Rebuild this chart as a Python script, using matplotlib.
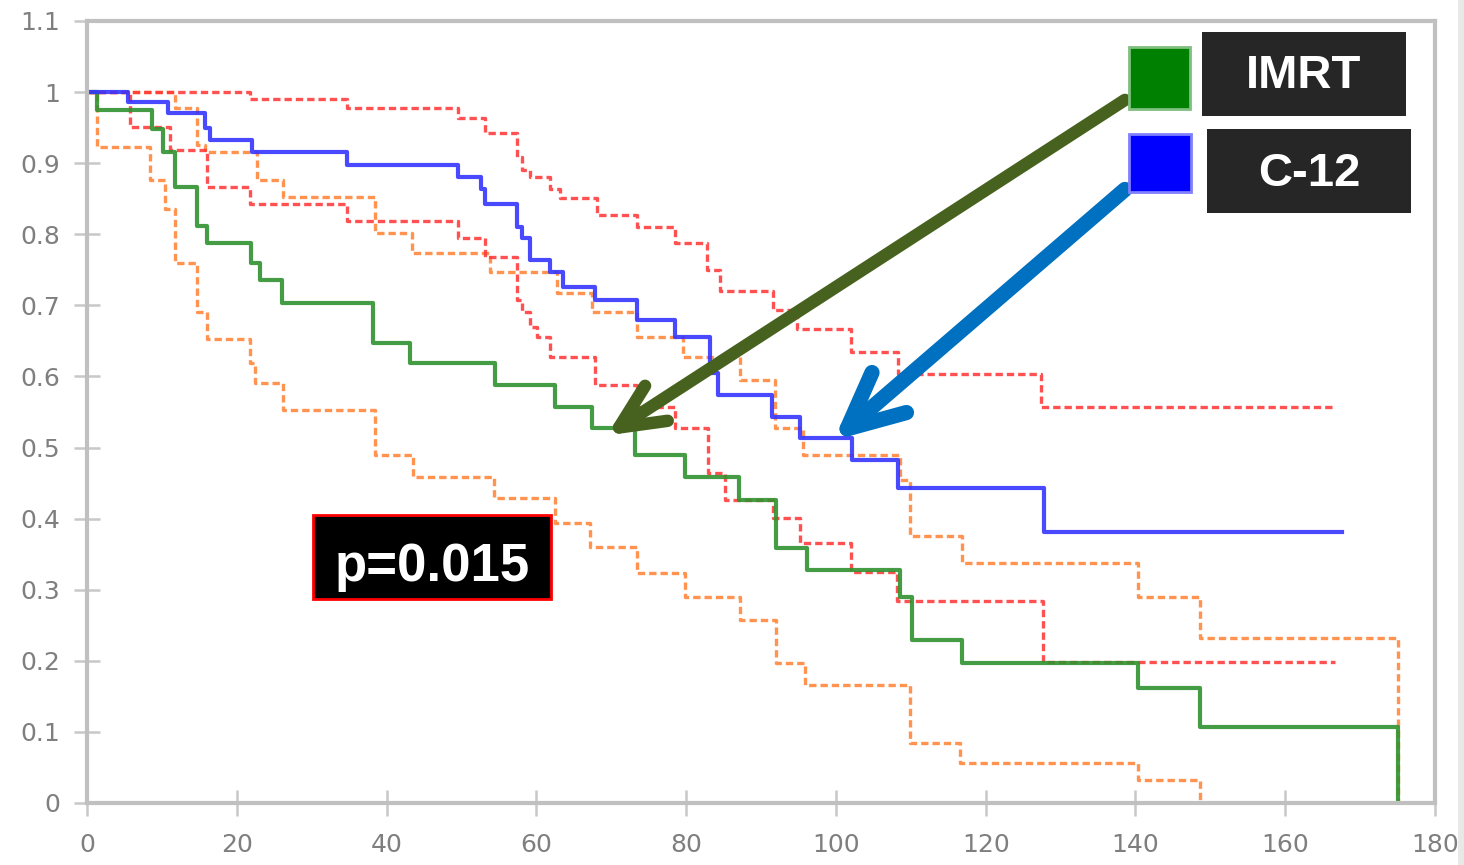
import matplotlib
matplotlib.use('Agg')
import matplotlib.pyplot as plt
from matplotlib.patches import Rectangle

# survival curves (months, fraction surviving)
imrt_t = [0, 1.3, 8.7, 10.1, 11.7, 14.7, 16.0, 21.9, 23.1, 26.0, 38.2, 43.1,
          54.5, 62.5, 67.4, 73.2, 79.8, 87.1, 92.0, 96.1, 108.5, 110.2, 116.8,
          140.3, 148.6, 175.0]
imrt_s = [1.0, 0.975, 0.948, 0.916, 0.867, 0.811, 0.788, 0.760, 0.736, 0.704,
          0.647, 0.619, 0.588, 0.557, 0.527, 0.490, 0.459, 0.426, 0.359, 0.328,
          0.290, 0.229, 0.197, 0.162, 0.107, 0.0]

c12_t = [0, 5.5, 10.8, 15.8, 16.4, 22.0, 34.7, 49.5, 52.6, 53.1, 57.4, 58.1,
         59.1, 61.8, 63.6, 67.8, 73.4, 78.5, 83.2, 84.3, 91.5, 95.2, 102.1,
         108.3, 127.8, 167.6]
c12_s = [1.0, 0.986, 0.971, 0.95, 0.933, 0.916, 0.898, 0.88, 0.863, 0.842,
         0.81, 0.795, 0.764, 0.747, 0.726, 0.708, 0.68, 0.656, 0.605, 0.574,
         0.543, 0.514, 0.483, 0.443, 0.381, 0.381]

# confidence bands, IMRT (orange)
imrt_hi_t = [0, 11.8, 14.7, 15.8, 22.7, 26.2, 38.5, 43.4, 53.8, 62.8, 67.4,
             73.4, 79.6, 87.2, 91.9, 95.6, 108.6, 109.9, 116.8, 140.3, 148.6,
             175.0]
imrt_hi_s = [1.0, 0.978, 0.926, 0.916, 0.877, 0.853, 0.802, 0.774, 0.747,
             0.718, 0.690, 0.656, 0.628, 0.595, 0.528, 0.490, 0.455, 0.375,
             0.338, 0.290, 0.232, 0.0]
imrt_lo_t = [0, 1.3, 8.4, 10.4, 11.8, 14.7, 16.0, 21.8, 22.4, 26.2, 38.5,
             43.5, 54.3, 62.5, 67.2, 73.4, 79.8, 87.2, 92.0, 95.9, 109.9, 116.6,
             140.3, 148.6, 175.0]
imrt_lo_s = [1.0, 0.923, 0.877, 0.835, 0.76, 0.69, 0.652, 0.619, 0.591, 0.553,
             0.49, 0.459, 0.429, 0.394, 0.36, 0.324, 0.29, 0.257, 0.197, 0.166,
             0.084, 0.056, 0.032, 0.0, 0.0]

# confidence bands, C-12 (red)
c12_hi_t = [0, 21.8, 34.7, 49.5, 53.1, 57.4, 58.1, 59.1, 61.8, 63.1, 68.1,
            73.4, 78.5, 82.8, 84.5, 91.6, 94.8, 102.0, 108.3, 127.4, 166.6]
c12_hi_s = [1.0, 0.99, 0.977, 0.963, 0.942, 0.909, 0.891, 0.880, 0.863, 0.851,
            0.827, 0.81, 0.788, 0.75, 0.72, 0.694, 0.667, 0.635, 0.604, 0.557,
            0.557]
c12_lo_t = [0, 5.7, 11.1, 16.0, 21.8, 34.7, 49.5, 53.1, 57.4, 58.1, 59.1,
            60.1, 61.8, 67.8, 73.4, 78.5, 82.9, 85.2, 91.6, 95.2, 102.0, 108.1,
            127.6, 166.6]
c12_lo_s = [1.0, 0.951, 0.919, 0.867, 0.842, 0.818, 0.795, 0.768, 0.708, 0.69,
            0.67, 0.656, 0.628, 0.588, 0.557, 0.528, 0.464, 0.426, 0.401, 0.366,
            0.325, 0.284, 0.198, 0.198]

x_ticks = [0, 20, 40, 60, 80, 100, 120, 140, 160, 180]
y_ticks = [0, 0.1, 0.2, 0.3, 0.4, 0.5, 0.6, 0.7, 0.8, 0.9, 1.0, 1.1]
y_tick_labels = ['0', '0.1', '0.2', '0.3', '0.4', '0.5', '0.6', '0.7', '0.8',
                 '0.9', '1', '1.1']

groups = ['IMRT', 'C-12']
p_value = 'p=0.015'

# arrow tail / head in data units
imrt_arrow = ((138.6, 0.989), (69.4, 0.517))
c12_arrow = ((138.6, 0.863), (99.7, 0.510))

W, H = 1464, 865


def fig_box(x0, y0, x1, y1):
    # pixel box (top-left origin) -> figure fraction rectangle args
    return (x0 / W, 1 - y1 / H), (x1 - x0) / W, (y1 - y0) / H


def label_box(fig, x0, y0, x1, y1, face, edge=None, lw=0):
    xy, w, h = fig_box(x0, y0, x1, y1)
    fig.add_artist(Rectangle(xy, w, h, transform=fig.transFigure,
                             facecolor=face, edgecolor=edge or face, lw=lw))


fig = plt.figure(figsize=(W / 100, H / 100), dpi=100)
ax = fig.add_axes([87 / W, 1 - 803 / H, (1435 - 87) / W, (803 - 21) / H])

dash = (0, (2.2, 1.2))
ax.step(imrt_lo_t, imrt_lo_s, where='post', color='#ff8030', lw=2.4,
        ls=dash, alpha=0.85)
ax.step(imrt_hi_t, imrt_hi_s, where='post', color='#ff8030', lw=2.4,
        ls=dash, alpha=0.85)
ax.step(c12_lo_t, c12_lo_s, where='post', color='#ff3333', lw=2.4,
        ls=dash, alpha=0.85)
ax.step(c12_hi_t, c12_hi_s, where='post', color='#ff3333', lw=2.4,
        ls=dash, alpha=0.85)
ax.step(imrt_t, imrt_s, where='post', color='#2f922f', lw=3.0, alpha=0.9)
ax.step(c12_t, c12_s, where='post', color='#3535ff', lw=3.0, alpha=0.9)

ax.set_xlim(0, 180)
ax.set_ylim(0, 1.1)
ax.set_xticks(x_ticks)
ax.set_xticklabels([str(v) for v in x_ticks])
ax.set_yticks(y_ticks)
ax.set_yticklabels(y_tick_labels)
ax.tick_params(direction='inout', length=19, width=1.8, color='#c8c8c8',
               labelcolor='#7f7f7f', labelsize=18)
ax.tick_params(axis='x', pad=12)
ax.tick_params(axis='y', pad=10)
for sp in ax.spines.values():
    sp.set_color('#c0c0c0')
    sp.set_linewidth(3)

# arrows from the legend boxes to the curves
ax.annotate('', xy=imrt_arrow[1], xytext=imrt_arrow[0],
            arrowprops=dict(arrowstyle='->,head_length=3.2,head_width=1.5',
                            mutation_scale=10, lw=9, color='#46621e',
                            shrinkA=0, shrinkB=0, capstyle='round',
                            joinstyle='round'))
ax.annotate('', xy=c12_arrow[1], xytext=c12_arrow[0],
            arrowprops=dict(arrowstyle='->,head_length=4.0,head_width=1.9',
                            mutation_scale=10, lw=11, color='#0070c0',
                            shrinkA=0, shrinkB=0, capstyle='round',
                            joinstyle='round'))

# legend squares and dark label boxes
label_box(fig, 1129, 47, 1190, 109, '#008000', '#7fbf7f', 2)
label_box(fig, 1129, 134, 1191, 192, '#0000ff', '#7f7fff', 2)
label_box(fig, 1202, 32, 1406, 116, '#262626')
label_box(fig, 1207, 129, 1411, 213, '#262626')
bold = dict(family=['Liberation Sans', 'DejaVu Sans'], weight='bold',
            color='white', ha='center', va='baseline')
fig.text(1304 / W, 1 - 88 / H, groups[0], fontsize=34, **bold)
fig.text(1309 / W, 1 - 186 / H, groups[1], fontsize=34, **bold)

# p value box
label_box(fig, 313, 515, 551, 599, 'black', '#ff0000', 2)
fig.text(432 / W, 1 - 581 / H, p_value, fontsize=38, **bold)

# faint strip at the right edge of the original image
label_box(fig, 1458, 0, 1464, 865, '#e8e8e8')

fig.savefig('out.png', dpi=100)
